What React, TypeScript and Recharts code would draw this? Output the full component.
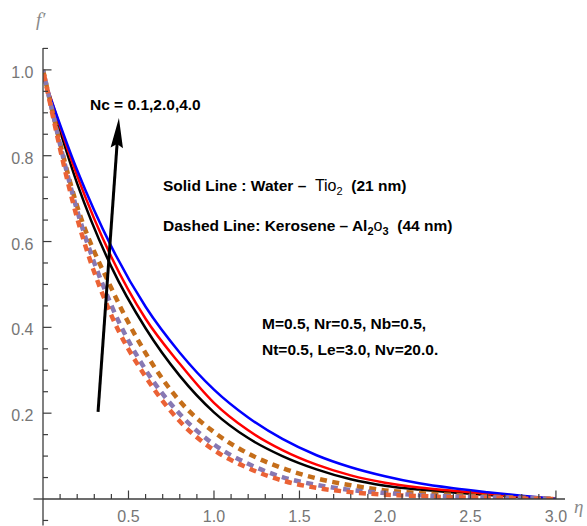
import React from 'react';
import { LineChart, Line, XAxis, YAxis, ReferenceLine } from 'recharts';

// similarity variable eta
const eta = [0, 0.2, 0.4, 0.6, 0.8, 1.0, 1.2, 1.4, 1.6, 1.8, 2.0, 2.2, 2.4, 2.6, 2.8, 3.0];

// Solid lines: Water - TiO2 (21 nm), Nc = 0.1, 2.0, 4.0
const solidNc01 = [0.99, 0.735, 0.541, 0.398, 0.287, 0.202, 0.142, 0.1, 0.069, 0.046, 0.031, 0.022, 0.0154, 0.0096, 0.0046, 0];
const solidNc20 = [0.99, 0.753, 0.564, 0.42, 0.315, 0.224, 0.16, 0.114, 0.08, 0.055, 0.038, 0.027, 0.019, 0.012, 0.006, 0];
const solidNc40 = [0.985, 0.766, 0.588, 0.448, 0.341, 0.255, 0.19, 0.14, 0.102, 0.074, 0.053, 0.0365, 0.025, 0.0158, 0.0076, 0];

// Dashed lines: Kerosene - Al2O3 (44 nm), Nc = 0.1, 2.0, 4.0
const dashedNc01 = [1.0, 0.654, 0.428, 0.285, 0.181, 0.114, 0.072, 0.043, 0.026, 0.016, 0.01, 0.007, 0.004, 0.003, 0.001, 0];
const dashedNc20 = [1.0, 0.672, 0.451, 0.301, 0.198, 0.127, 0.082, 0.051, 0.033, 0.021, 0.014, 0.009, 0.006, 0.004, 0.002, 0];
const dashedNc40 = [1.0, 0.682, 0.491, 0.34, 0.228, 0.156, 0.106, 0.072, 0.048, 0.032, 0.02, 0.014, 0.0095, 0.006, 0.003, 0];

// ticks
const xTicks = [0.1, 0.2, 0.3, 0.4, 0.5, 0.6, 0.7, 0.8, 0.9, 1.0, 1.1, 1.2, 1.3, 1.4, 1.5, 1.6, 1.7, 1.8, 1.9, 2.0, 2.1, 2.2, 2.3, 2.4, 2.5, 2.6, 2.7, 2.8, 2.9, 3.0];
const xTickLabels = ['0.5', '1.0', '1.5', '2.0', '2.5', '3.0'];
const yTicks = [0.05, 0.1, 0.15, 0.2, 0.25, 0.3, 0.35, 0.4, 0.45, 0.5, 0.55, 0.6, 0.65, 0.7, 0.75, 0.8, 0.85, 0.9, 0.95, 1.0, 1.05];
const yTickLabels = ['0.2', '0.4', '0.6', '0.8', '1.0'];

// arrow annotation (Nc increasing)
const arrowNc = [{ x: 0.322, y: 0.203 }, { x: 0.444, y: 0.888 }];

const data = eta.map((e, i) => ({
  eta: e,
  s01: solidNc01[i],
  s20: solidNc20[i],
  s40: solidNc40[i],
  d01: dashedNc01[i],
  d20: dashedNc20[i],
  d40: dashedNc40[i],
}));

const AXIS = '#3c3c3c';
const LABEL = '#767676';
const SANS = '"Liberation Sans", Arial, sans-serif';

const XTick = (props: any) => {
  const { x, y, payload } = props;
  const lbl = Number(payload.value).toFixed(1);
  const major = xTickLabels.includes(lbl);
  return (
    <g>
      <line x1={x} x2={x} y1={y} y2={y - (major ? 8.5 : 5)} stroke={AXIS} strokeWidth={1.2} />
      {major && (
        <text x={x} y={y + 22.5} textAnchor="middle" fontFamily={SANS} fontSize={16} fill={LABEL}>
          {lbl}
        </text>
      )}
    </g>
  );
};

const YTick = (props: any) => {
  const { x, y, payload } = props;
  const lbl = Number(payload.value).toFixed(1);
  const major = yTickLabels.includes(lbl) && Math.abs(Number(payload.value) - Number(lbl)) < 1e-6;
  return (
    <g>
      <line x1={x} x2={x + (major ? 8.5 : 5)} y1={y} y2={y} stroke={AXIS} strokeWidth={1.2} />
      {major && (
        <text x={x - 9.5} y={y + 8} textAnchor="end" fontFamily={SANS} fontSize={16} fill={LABEL}>
          {lbl}
        </text>
      )}
    </g>
  );
};

const ArrowShape = (p: any) => {
  const { x1, y1, x2, y2 } = p;
  const dx = x2 - x1;
  const dy = y2 - y1;
  const L = Math.hypot(dx, dy) || 1;
  const ux = dx / L;
  const uy = dy / L;
  const headLen = 30;
  const halfW = 6.2;
  const bx = x2 - ux * headLen;
  const by = y2 - uy * headLen;
  const px = -uy;
  const py = ux;
  return (
    <g>
      <line x1={x1} y1={y1} x2={bx + ux * 4} y2={by + uy * 4} stroke="#000" strokeWidth={3} />
      <polygon
        points={`${x2},${y2} ${bx + px * halfW},${by + py * halfW} ${bx + ux * 4},${by + uy * 4} ${bx - px * halfW},${by - py * halfW}`}
        fill="#000"
      />
    </g>
  );
};

const boldText = { fontFamily: SANS, fontWeight: 700, fontSize: 15.5, fill: '#000' } as const;

export default function App() {
  return (
    <div style={{ position: 'absolute', left: 0, top: 0, width: 587, height: 526, background: '#fff' }}>
      <LineChart width={587} height={526} data={data} margin={{ top: 48, right: 22, bottom: 0, left: 0 }}>
        <XAxis
          dataKey="eta"
          type="number"
          domain={[0, 3.053]}
          ticks={xTicks}
          interval={0}
          tick={XTick}
          tickSize={0}
          tickMargin={0}
          tickLine={false}
          axisLine={{ stroke: AXIS, strokeWidth: 1.3 }}
          height={27}
          allowDataOverflow
        />
        <YAxis
          type="number"
          domain={[0, 1.051]}
          ticks={yTicks}
          interval={0}
          tick={YTick}
          tickSize={0}
          tickMargin={0}
          tickLine={false}
          axisLine={{ stroke: AXIS, strokeWidth: 1.3 }}
          width={43}
          allowDataOverflow
        />
        {/* axis extensions past the origin */}
        <ReferenceLine segment={[{ x: -0.056, y: 0 }, { x: 0, y: 0 }]} stroke={AXIS} strokeWidth={1.3} ifOverflow="visible" />
        <ReferenceLine segment={[{ x: 0, y: -0.062 }, { x: 0, y: 0 }]} stroke={AXIS} strokeWidth={1.3} ifOverflow="visible" />
        <ReferenceLine segment={[{ x: 0, y: -0.05 }, { x: 0.03, y: -0.05 }]} stroke={AXIS} strokeWidth={1.2} ifOverflow="visible" />

        <Line type="monotone" dataKey="s01" stroke="#000000" strokeWidth={2.5} dot={false} isAnimationActive={false} />
        <Line type="monotone" dataKey="s20" stroke="#ff0000" strokeWidth={2.5} dot={false} isAnimationActive={false} />
        <Line type="monotone" dataKey="s40" stroke="#0000ff" strokeWidth={2.5} dot={false} isAnimationActive={false} />
        <Line type="monotone" dataKey="d40" stroke="#c56e1a" strokeWidth={4.5} strokeDasharray="7 5.5" dot={false} isAnimationActive={false} />
        <Line type="monotone" dataKey="d20" stroke="#8778b3" strokeWidth={4.5} strokeDasharray="7 5.5" strokeDashoffset={4} dot={false} isAnimationActive={false} />
        <Line type="monotone" dataKey="d01" stroke="#eb6235" strokeWidth={4.5} strokeDasharray="7 5.5" strokeDashoffset={8} dot={false} isAnimationActive={false} />

        <ReferenceLine segment={arrowNc} ifOverflow="visible" shape={ArrowShape} />
      </LineChart>

      <svg width={587} height={526} style={{ position: 'absolute', left: 0, top: 0, pointerEvents: 'none' }}>
        <text x={36} y={26} fontFamily='"Liberation Serif", "Times New Roman", serif' fontStyle="italic" fontSize={19} fill="#8a8a8a">
          f′
        </text>
        <text x={574} y={513} fontFamily='"Liberation Serif", "Times New Roman", serif' fontStyle="italic" fontSize={19} fill="#8a8a8a">
          η
        </text>

        <text x={90} y={110} {...boldText}>Nc = 0.1,2.0,4.0</text>

        <text x={163} y={191} {...boldText} style={{ whiteSpace: 'pre' }}>
          Solid Line : Water –{'  '}
          <tspan fontWeight={400} fontSize={16}>Tio</tspan>
          <tspan fontWeight={400} fontSize={11} dy={4}>2</tspan>
          <tspan dy={-4}>{'  '}(21 nm)</tspan>
        </text>

        <text x={163} y={231} {...boldText} style={{ whiteSpace: 'pre' }}>
          Dashed Line: Kerosene – Al
          <tspan fontSize={11} dy={4}>2</tspan>
          <tspan fontWeight={400} fontSize={16} dy={-4}>o</tspan>
          <tspan fontSize={11} dy={4}>3</tspan>
          <tspan dy={-4}>{'  '}(44 nm)</tspan>
        </text>

        <text x={262} y={329} {...boldText}>M=0.5, Nr=0.5, Nb=0.5,</text>
        <text x={262} y={355} {...boldText}>Nt=0.5, Le=3.0, Nv=20.0.</text>
      </svg>
    </div>
  );
}
